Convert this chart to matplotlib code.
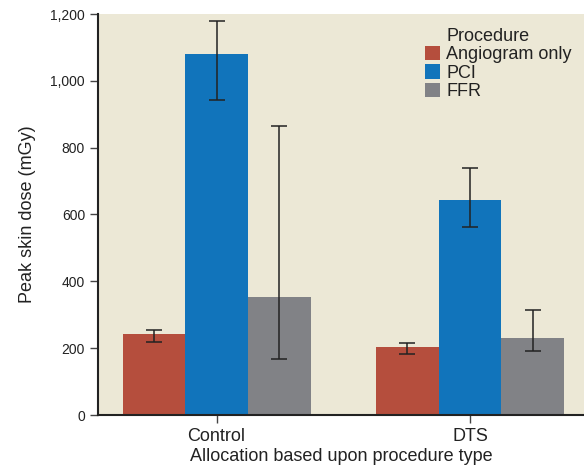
import matplotlib
matplotlib.use("Agg")
import matplotlib.pyplot as plt
import numpy as np
from matplotlib.patches import Patch
from matplotlib.ticker import FuncFormatter

groups = ["Control", "DTS"]
series = ["Angiogram only", "PCI", "FFR"]
means = {
    "Angiogram only": [242, 204],
    "PCI": [1081, 644],
    "FFR": [353, 230],
}
err_low = {
    "Angiogram only": [217, 182],
    "PCI": [942, 564],
    "FFR": [169, 192],
}
err_high = {
    "Angiogram only": [254, 216],
    "PCI": [1179, 740],
    "FFR": [866, 315],
}
colors = {"Angiogram only": "#B54E3D", "PCI": "#1174BB", "FFR": "#818286"}
yticks = [0, 200, 400, 600, 800, 1000, 1200]

plt.rcParams['font.family'] = ['Liberation Sans', 'DejaVu Sans']

fig = plt.figure(figsize=(5.84, 4.65), dpi=100)
ax = fig.add_axes([98.3/584, 50/465, 1 - 98.3/584, 401/465])
ax.set_facecolor("#ECE8D6")

x = np.arange(len(groups))
w = 0.2475
for i, s in enumerate(series):
    xs = x + (i - 1) * w
    m = np.array(means[s])
    lo = m - np.array(err_low[s])
    hi = np.array(err_high[s]) - m
    ax.bar(xs, m, width=w, color=colors[s], zorder=2)
    ax.errorbar(xs, m, yerr=[lo, hi], fmt='none', ecolor="#222222",
                elinewidth=1.1, capsize=5.5, capthick=1.1, zorder=3)

ax.set_xlim(-0.467, 1.450)
ax.set_ylim(0, 1200)
ax.set_yticks(yticks)
ax.yaxis.set_major_formatter(FuncFormatter(lambda v, p: f"{int(v):,}"))
ax.set_xticks(x)
ax.set_xticklabels(groups, fontsize=13, color="#222222")
for lab in ax.get_yticklabels():
    lab.set_fontsize(10)
    lab.set_color("#222222")

for sp in ["top", "right"]:
    ax.spines[sp].set_visible(False)
for sp in ["left", "bottom"]:
    ax.spines[sp].set_color("#222222")
    ax.spines[sp].set_linewidth(1.5)
ax.tick_params(axis='both', length=6, width=1, color="#444444")
ax.tick_params(axis='x', pad=3.5)

ax.set_ylabel("Peak skin dose (mGy)", fontsize=13, color="#222222", labelpad=10)
ax.set_xlabel("Allocation based upon procedure type", fontsize=13, color="#222222", labelpad=2)

handles = [Patch(visible=False)] + [Patch(facecolor=colors[s], edgecolor='none') for s in series]
labels = ["Procedure"] + series
leg = ax.legend(handles, labels, loc="upper left",
                bbox_to_anchor=((427 - 98.3) / (584 - 98.3) - 0.005, 0.967), frameon=False,
                fontsize=13, handlelength=0.85, handleheight=0.85,
                handletextpad=0.35, labelspacing=0.06, borderaxespad=0.0,
                borderpad=0.0)
for t in leg.get_texts():
    t.set_color("#222222")

fig.savefig("out.png", dpi=100)
